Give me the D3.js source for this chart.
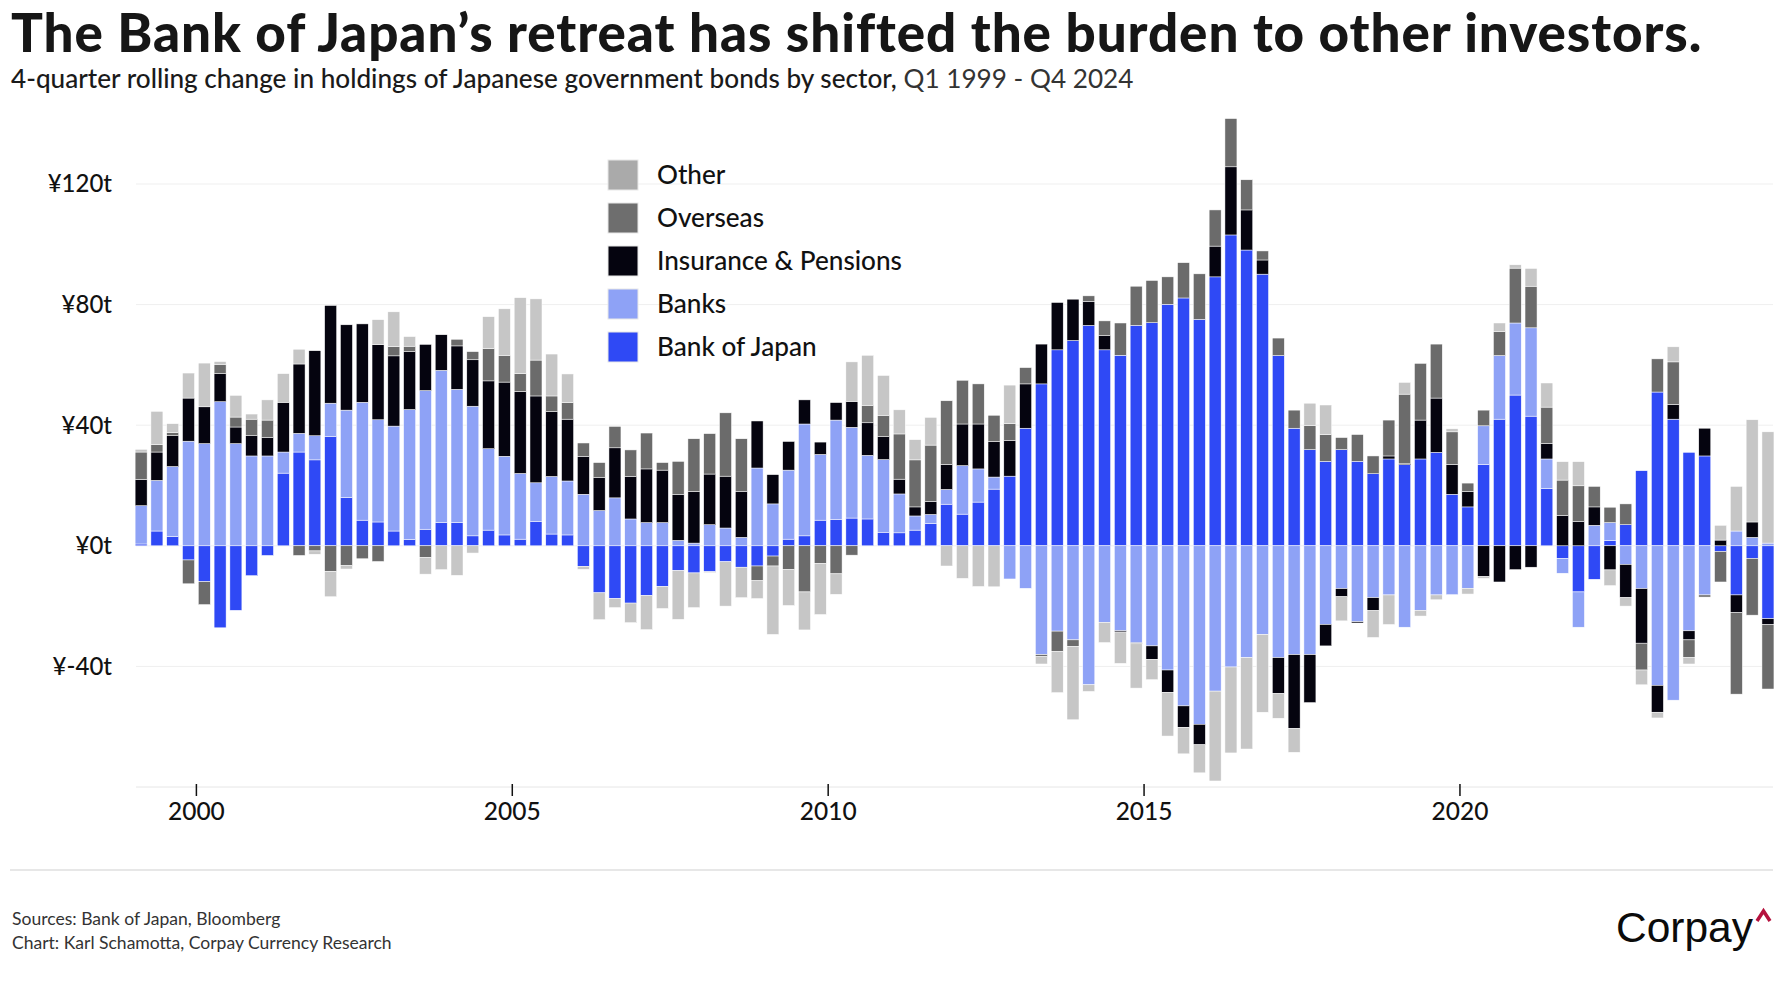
<!DOCTYPE html>
<html>
<head>
<meta charset="utf-8">
<script src="https://cdn.jsdelivr.net/npm/d3@7"></script>
<style>
  html, body { margin: 0; padding: 0; background: #fff; }
  svg { display: block; font-family: "Lato", "Open Sans", sans-serif; }
</style>
</head>
<body>
<svg id="chart" width="1784" height="1000"></svg>
<script>
// ---- Data (¥ trillion, 4-quarter rolling change), Q1 1999 .. Q4 2024 ----
const startYear = 1999;
const bankOfJapan = [0.6,4.9,3.1,-4.7,-11.9,-27.2,-21.4,-9.9,-3.2,24.1,31.1,28.5,36.3,16,8.5,7.9,4.9,2.1,5.5,7.7,7.7,3.3,5.2,3.6,2.2,8,3.9,3.6,-6.8,-15.6,-17.5,-19,-16.5,-13.5,-8.2,-9,-8.6,-5.3,-7.1,-6.7,-3.4,2.2,3.3,8.5,8.8,9.2,8.9,4.5,4.3,5.2,7.4,13.8,10.5,14.5,18.8,23.1,39,53.7,65,68.1,73.1,65,63.2,73.1,74,80.1,82.2,75.1,89.2,103.1,98.1,90.1,63.1,39,31.9,28,31.9,28,23.9,28.8,26.9,28.8,31,17.1,12.9,27,42,50,43,19,-4.2,-15.3,-11.1,1.8,7,24.9,51,42,31,29.8,-1.9,-16.3,-4.2,-24.2];
const banks = [12.7,16.8,23.2,34.7,33.9,47.8,33.9,29.8,29.8,7,6.2,8,11,29,39.1,33.9,34.8,43.1,46,50.5,44.2,43,27,26.1,21.8,12.9,19.1,17.9,17.1,11.7,15.9,8.9,7.7,7.7,1.8,0.9,7,5.9,2.8,25.8,13.9,22.9,37.1,21.8,32.9,30.1,21.1,24.1,12.9,4.7,3,4.9,16.1,11,4,-11,-14.1,-36.1,-28.3,-31.2,-46.1,-25.4,-28.2,-32.2,-33.2,-41.2,-53.1,-59.2,-48.2,-40.2,-37.1,-29.4,-37.1,-36.1,-36.1,-26.1,-14.2,-25.2,-17.2,-16.3,-27,-21.4,-16.3,-16.2,-14.1,12.8,21.1,23.9,29.3,9.8,-4.9,-11.7,6.8,5.9,-6.2,-14.2,-46.3,-51.2,-28.2,-16.3,0,4.9,2.8,0.9];
const insurancePensions = [8.7,9.4,10.2,14.3,12.2,9.3,5.5,6.7,6.1,16.5,23,28.2,32.4,28.3,26,24.9,23.3,19.2,15.3,11.8,14.4,15.4,22.5,24.6,27.2,28.8,21.5,20.5,12.6,10.9,16.6,14.1,17.8,17.4,15.3,17.1,16.8,17.2,15.3,15.6,9.7,9.5,8,4.1,5.8,8.6,10.8,7.6,4.9,3,4.3,8.3,13.8,14.9,11.8,11.8,14.7,13.2,15.7,13.7,8,4.7,-0.4,-0.3,-4.5,-7.4,-7.1,-6.8,10.2,22.6,13.3,4.7,-11.9,-24.5,-15.9,-7.1,-2.7,-0.4,-4.3,1,0.3,12.9,18,9.9,5.1,-10.2,-12,-7.9,-7.1,5.2,10.1,8,6.1,-8,-11,-18.1,-8.9,4.9,-3,9.2,1.9,-5.9,5.1,-1.9];
const overseas = [9.1,2.5,1.1,-7.9,-7.6,3.1,3.3,5.5,5.8,0,-3.2,-1.7,-8.5,-6.6,-4.3,-5.2,3.1,1.8,-3.9,0,2.2,2.7,10.7,8.9,5.9,11.9,5.2,5.5,4.4,5,7.1,8.8,11.9,2.5,10.9,17.5,13.4,21,17.4,-4.9,-3.3,-7.9,-15.3,-5.9,-9.3,-3.1,5.8,7.1,15,15.6,18.7,21.1,14.5,13.3,8.7,5.6,5.4,-0.7,-6.8,-2.2,1.8,4.9,10.7,13,14,9.1,11.7,15.1,12,16,10,3,5.8,6,8,8.9,4,8.9,5.9,11.9,23.1,18.8,17.9,10.8,2.8,5.2,8,18.2,13.8,12,11.7,11.9,6.8,5.1,6.9,-8.9,11,14.1,-5.9,-0.7,-10.1,-27,-18.8,-21.4];
const other = [0.9,11,2.9,8.3,14.5,0.9,7.2,1.7,6.7,9.5,4.9,-1.1,-8.4,-1.1,0,8.3,11.5,3.2,-5.5,-7.9,-9.8,-2.4,10.6,15.4,25.2,20.3,13.9,9.5,-1,-8.9,-3,-6.5,-11.3,-7.3,-16.2,-11.5,-0.3,-14.7,-10.1,-5.9,-22.7,-11.9,-12.6,-16.9,-6.8,13.1,16.6,13.2,8,6.7,9.2,-6.7,-10.8,-13.5,-13.6,12.8,0,-2.4,-13.6,-24.3,-2.2,-6.7,-10.4,-14.7,-6.7,-14.5,-8.8,-9.3,-29.8,-28.5,-30.3,-25.8,-8.2,-7.9,7.4,9.8,-8,0,-8.9,-9.8,3.9,-1.9,-1.6,1,-1.9,-0.6,2.8,1.1,5.9,8,6.1,8,0,-5.2,-2.8,-4.9,-1.9,5,-2.1,0,4.9,14.8,33.9,36.9];

const seriesKeys = ["Bank of Japan", "Banks", "Insurance & Pensions", "Overseas", "Other"];
const seriesValues = [bankOfJapan, banks, insurancePensions, overseas, other];
const barColors = ["#2f49f5", "#8ea2f6", "#05040f", "#6b6b6b", "#c6c6c6"];
const legendColors = ["#2f49f5", "#8ea2f6", "#05040f", "#6e6e6e", "#aaaaaa"];
const yTicks = [-40, 0, 40, 80, 120];
const yTickLabels = ["¥-40t", "¥0t", "¥40t", "¥80t", "¥120t"];
const xTicks = [2000, 2005, 2010, 2015, 2020];

// ---- Build table ----
const rows = bankOfJapan.map((_, i) => {
  const r = { t: startYear + Math.floor(i / 4) + (i % 4) / 4 + 0.125 };
  seriesKeys.forEach((k, s) => r[k] = seriesValues[s][i]);
  return r;
});

const svg = d3.select("#chart");

// ---- Scales ----
const x = d3.scaleLinear().domain([1999.044, 2024.955]).range([136, 1773]);
const y = d3.scaleLinear().domain([-80, 120]).range([787, 184]);
const barW = (x(2000.25) - x(2000)) * 0.76;

function fit(sel, target) {
  const fs = parseFloat(sel.attr("font-size"));
  const w = sel.node().getComputedTextLength();
  sel.attr("font-size", fs * target / w);
}
function spread(sel, target) {
  const w = sel.node().getComputedTextLength();
  const n = sel.text().length;
  sel.attr("letter-spacing", (target - w) / n);
}

// ---- Title ----
const title = svg.append("text")
  .attr("x", 11).attr("y", 52)
  .attr("font-size", 53).attr("font-weight", 900).attr("fill", "#161616")
  .text("The Bank of Japan’s retreat has shifted the burden to other investors.");
spread(title, 1690);

const sub = svg.append("text")
  .attr("x", 11).attr("y", 88)
  .attr("font-size", 24).attr("fill", "#1a1a1a");
sub.append("tspan").attr("font-weight", 500)
  .text("4-quarter rolling change in holdings of Japanese government bonds by sector,");
sub.append("tspan").attr("font-weight", 400).attr("fill", "#333")
  .text(" Q1 1999 - Q4 2024");
fit(sub, 1123);

// ---- Gridlines ----
svg.append("g").selectAll("line").data(yTicks).join("line")
  .attr("x1", x.range()[0]).attr("x2", x.range()[1])
  .attr("y1", d => y(d)).attr("y2", d => y(d))
  .attr("stroke", "#efefef").attr("stroke-width", 1);

svg.append("line")
  .attr("x1", x.range()[0]).attr("x2", x.range()[1])
  .attr("y1", y(-80)).attr("y2", y(-80))
  .attr("stroke", "#e6e6e6").attr("stroke-width", 1);

// ---- Y labels ----
svg.append("g").selectAll("text").data(yTicks).join("text")
  .attr("x", 112).attr("y", d => y(d))
  .attr("dy", "0.35em")
  .attr("text-anchor", "end")
  .attr("font-size", 24).attr("font-weight", 500).attr("fill", "#111")
  .text((d, i) => yTickLabels[i]);

// ---- Bars ----
const stack = d3.stack().keys(seriesKeys).offset(d3.stackOffsetDiverging);
const stacked = stack(rows);

svg.append("g").selectAll("g").data(stacked).join("g")
  .attr("fill", (d, i) => barColors[i])
  .selectAll("rect").data(d => d).join("rect")
  .attr("x", d => x(d.data.t) - barW / 2)
  .attr("width", barW)
  .attr("y", d => y(Math.max(d[0], d[1])))
  .attr("height", d => Math.abs(y(d[0]) - y(d[1])))
  .attr("stroke", "#fff").attr("stroke-width", 0.5);

// ---- X axis ticks ----
const xg = svg.append("g");
xg.selectAll("line").data(xTicks).join("line")
  .attr("x1", d => x(d)).attr("x2", d => x(d))
  .attr("y1", 784).attr("y2", 796)
  .attr("stroke", "#111").attr("stroke-width", 1.5);
xg.selectAll("text").data(xTicks).join("text")
  .attr("x", d => x(d)).attr("y", 820)
  .attr("text-anchor", "middle")
  .attr("font-size", 24.5).attr("font-weight", 500).attr("fill", "#111")
  .text(d => d);

// ---- Legend (top to bottom: Other .. Bank of Japan) ----
const legendOrder = [4, 3, 2, 1, 0];
const lg = svg.append("g");
const legendTexts = [];
legendOrder.forEach((s, j) => {
  const top = 160 + j * 43;
  lg.append("rect").attr("x", 608).attr("y", top).attr("width", 30).attr("height", 30)
    .attr("fill", legendColors[s]).attr("stroke", "#e8e8e8").attr("stroke-width", 1);
  legendTexts.push(lg.append("text").attr("x", 657).attr("y", top + 15).attr("dy", "0.35em")
    .attr("font-size", 24).attr("font-weight", 500).attr("fill", "#111")
    .text(seriesKeys[s]));
});
// size legend so that "Insurance & Pensions" spans like the reference
const insT = legendTexts[2];
const lfs = 24 * 245 / insT.node().getComputedTextLength();
legendTexts.forEach(t => t.attr("font-size", lfs));

// ---- Footer ----
svg.append("line").attr("x1", 10).attr("x2", 1773).attr("y1", 870).attr("y2", 870)
  .attr("stroke", "#d0d0d0").attr("stroke-width", 1.2);
svg.append("text").attr("x", 12).attr("y", 925).attr("font-size", 18).attr("fill", "#333")
  .text("Sources: Bank of Japan, Bloomberg");
const chartNote = svg.append("text").attr("x", 12).attr("y", 949).attr("font-size", 18).attr("fill", "#333")
  .text("Chart: Karl Schamotta, Corpay Currency Research");
fit(chartNote, 380);
const fsNote = chartNote.attr("font-size");
svg.selectAll("text").filter(function() { return d3.select(this).text().startsWith("Sources"); })
  .attr("font-size", fsNote);

const logo = svg.append("text").attr("x", 1616).attr("y", 942)
  .attr("font-family", "Liberation Sans, Arial, sans-serif")
  .attr("font-size", 40).attr("fill", "#0b0b0b")
  .text("Corpay");
fit(logo, 137);
svg.append("path").attr("d", "M1757,921 L1763.5,911 L1770,921")
  .attr("fill", "none").attr("stroke", "#b5123e").attr("stroke-width", 3.5);
</script>
</body>
</html>
